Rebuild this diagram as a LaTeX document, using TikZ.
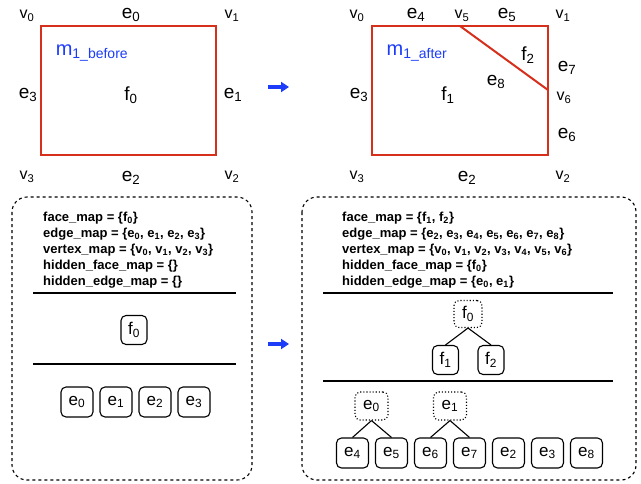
\documentclass[tikz,border=0pt]{standalone}
\usepackage{fontspec}
\setmainfont{Liberation Sans}
\usetikzlibrary{arrows.meta}
\definecolor{meshred}{RGB}{214,48,28}
\definecolor{mblue}{RGB}{28,60,250}
\newcommand{\ix}[2]{#1\textsubscript{#2}}
\tikzset{%
  >={Triangle[length=8pt,width=10pt]},
  % Specifications for style of labels and nodes:
        vlabel/.style = {font=\fontsize{16}{18}\selectfont},
        elabel/.style = {font=\fontsize{19}{22}\selectfont},
        mlabel/.style = {font=\fontsize{20}{22}\selectfont, text=mblue},
       mapline/.style = {anchor=base west, inner sep=0pt,
                         font=\bfseries\fontsize{13}{15}\selectfont},
          base/.style = {rectangle, rounded corners=5pt, draw=black,
                         line width=1.1pt, inner sep=0pt,
                         font=\fontsize{17}{19}\selectfont},
       facebox/.style = {base, minimum width=26pt, minimum height=29pt},
       edgebox/.style = {base, minimum width=32pt, minimum height=30pt},
    hiddenface/.style = {base, dotted, minimum width=28pt, minimum height=27pt},
    hiddenedge/.style = {base, dotted, minimum width=33pt, minimum height=28pt},
      meshline/.style = {draw=meshred, line width=2pt},
         panel/.style = {draw, dashed, rounded corners=15pt, line width=1.1pt},
       divider/.style = {line width=1.4pt},
     nextarrow/.style = {->, draw=mblue, line width=3.5pt},
}
\begin{document}
\begin{tikzpicture}[x=1pt, y=-1pt, node distance=39pt]
  \useasboundingbox (0,0) rectangle (641,483);
  % Mesh before the split
  \coordinate (a0) at (41,26);
  \coordinate (a2) at (216,155);
  \draw[meshline] (a0) rectangle (a2);
  \node (av0) [vlabel] at (27,16)  {\ix{v}{0}};
  \node (av1) [vlabel] at (232,16) {\ix{v}{1}};
  \node (av2) [vlabel] at (232,177) {\ix{v}{2}};
  \node (av3) [vlabel] at (27,177) {\ix{v}{3}};
  \node (ae0) [elabel] at (131,15) {\ix{e}{0}};
  \node (ae1) [elabel] at (233,95) {\ix{e}{1}};
  \node (ae2) [elabel] at (131,178) {\ix{e}{2}};
  \node (ae3) [elabel] at (28,95)  {\ix{e}{3}};
  \node (af0) [elabel] at (131,95) {\ix{f}{0}};
  \node (am)  [mlabel] at (92,53)  {m\textsubscript{1\_before}};
  % Mesh after the split
  \coordinate (b0) at (372,26);
  \coordinate (b2) at (548,155);
  \coordinate (b5) at (460,26);
  \coordinate (b6) at (548,90);
  \draw[meshline] (b0) rectangle (b2);
  \draw[meshline] (b5) -- (b6);
  \node (bv0) [vlabel] at (357,16)  {\ix{v}{0}};
  \node (bv5) [vlabel] at (462,16)  {\ix{v}{5}};
  \node (bv1) [vlabel] at (563,16)  {\ix{v}{1}};
  \node (bv6) [vlabel] at (564,98)  {\ix{v}{6}};
  \node (bv2) [vlabel] at (563,177) {\ix{v}{2}};
  \node (bv3) [vlabel] at (357,177) {\ix{v}{3}};
  \node (be4) [elabel] at (416,15)  {\ix{e}{4}};
  \node (be5) [elabel] at (507,15)  {\ix{e}{5}};
  \node (be7) [elabel] at (567,68)  {\ix{e}{7}};
  \node (be6) [elabel] at (567,135) {\ix{e}{6}};
  \node (be2) [elabel] at (467,178) {\ix{e}{2}};
  \node (be3) [elabel] at (359,95)  {\ix{e}{3}};
  \node (be8) [elabel] at (496,82)  {\ix{e}{8}};
  \node (bf1) [elabel] at (448,95)  {\ix{f}{1}};
  \node (bf2) [elabel] at (528,55)  {\ix{f}{2}};
  \node (bm)  [mlabel] at (417,53)  {m\textsubscript{1\_after}};
  % Arrows between before and after
  \coordinate (top1) at (268,87);
  \coordinate (top2) at (289,87);
  \draw[nextarrow] (top1) -- (top2);
  \coordinate (bot1) at (268,344);
  \coordinate (bot2) at (289,344);
  \draw[nextarrow] (bot1) -- (bot2);
  % Left panel: maps and trees
  \draw[panel] (12,197) rectangle (252,480);
  \node (lmap1) [mapline] at (43,221) {face\_map = \{\ix{f}{0}\}};
  \node (lmap2) [mapline] at (43,237) {edge\_map = \{\ix{e}{0}, \ix{e}{1}, \ix{e}{2}, \ix{e}{3}\}};
  \node (lmap3) [mapline] at (43,253) {vertex\_map = \{\ix{v}{0}, \ix{v}{1}, \ix{v}{2}, \ix{v}{3}\}};
  \node (lmap4) [mapline] at (43,269) {hidden\_face\_map = \{\}};
  \node (lmap5) [mapline] at (43,285) {hidden\_edge\_map = \{\}};
  \draw[divider] (33,293) -- (236,293);
  \node (lf0) [facebox] at (134,330) {\ix{f}{0}};
  \draw[divider] (33,364) -- (236,364);
  \node (le0) [edgebox] at (77,402)    {\ix{e}{0}};
  \node (le1) [edgebox, right of=le0]  {\ix{e}{1}};
  \node (le2) [edgebox, right of=le1]  {\ix{e}{2}};
  \node (le3) [edgebox, right of=le2]  {\ix{e}{3}};
  % Right panel: maps and trees
  \draw[panel] (302,197) rectangle (636,480);
  \node (rmap1) [mapline] at (342,221) {face\_map = \{\ix{f}{1}, \ix{f}{2}\}};
  \node (rmap2) [mapline] at (342,237) {edge\_map = \{\ix{e}{2}, \ix{e}{3}, \ix{e}{4}, \ix{e}{5}, \ix{e}{6}, \ix{e}{7}, \ix{e}{8}\}};
  \node (rmap3) [mapline] at (342,253) {vertex\_map = \{\ix{v}{0}, \ix{v}{1}, \ix{v}{2}, \ix{v}{3}, \ix{v}{4}, \ix{v}{5}, \ix{v}{6}\}};
  \node (rmap4) [mapline] at (342,269) {hidden\_face\_map = \{\ix{f}{0}\}};
  \node (rmap5) [mapline] at (342,285) {hidden\_edge\_map = \{\ix{e}{0}, \ix{e}{1}\}};
  \draw[divider] (323,293) -- (613,293);
  \node (rf0) [hiddenface] at (468,314) {\ix{f}{0}};
  \node (rf1) [facebox] at (445.5,360)  {\ix{f}{1}};
  \node (rf2) [facebox] at (491,360)    {\ix{f}{2}};
  \draw[line width=1.1pt] (rf0.south) -- (rf1.north);
  \draw[line width=1.1pt] (rf0.south) -- (rf2.north);
  \draw[divider] (323,381) -- (613,381);
  \node (re4) [edgebox] at (352.5,453) {\ix{e}{4}};
  \node (re5) [edgebox, right of=re4]  {\ix{e}{5}};
  \node (re6) [edgebox, right of=re5]  {\ix{e}{6}};
  \node (re7) [edgebox, right of=re6]  {\ix{e}{7}};
  \node (re2) [edgebox, right of=re7]  {\ix{e}{2}};
  \node (re3) [edgebox, right of=re2]  {\ix{e}{3}};
  \node (re8) [edgebox, right of=re3]  {\ix{e}{8}};
  \node (re0) [hiddenedge] at (371.5,406) {\ix{e}{0}};
  \node (re1) [hiddenedge] at (450,406)   {\ix{e}{1}};
  \draw[line width=1.1pt] (re0.south) -- (re4.north);
  \draw[line width=1.1pt] (re0.south) -- (re5.north);
  \draw[line width=1.1pt] (re1.south) -- (re6.north);
  \draw[line width=1.1pt] (re1.south) -- (re7.north);
\end{tikzpicture}
\end{document}
